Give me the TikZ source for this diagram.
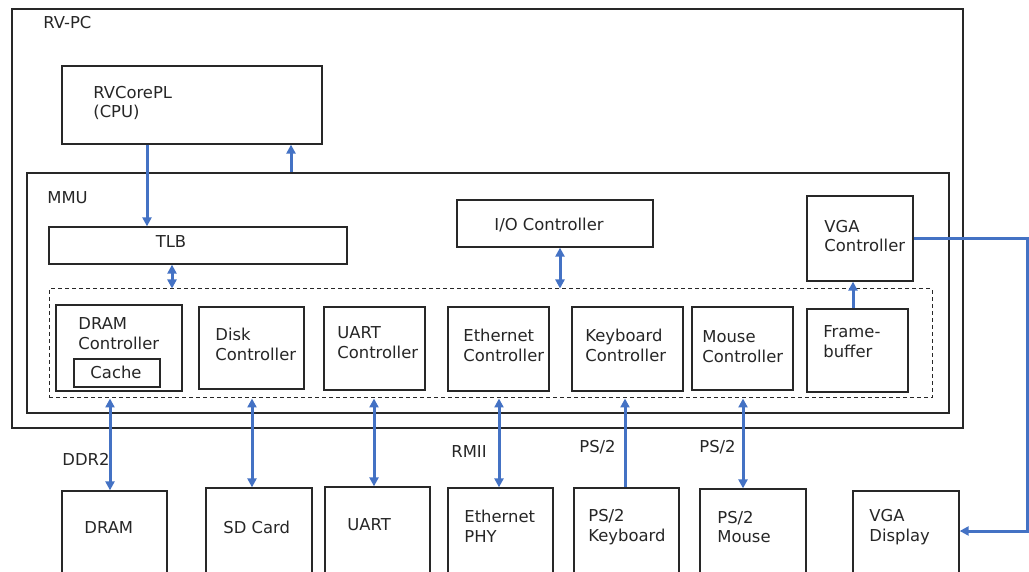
\documentclass[tikz,border=0pt]{standalone}
\usepackage{fontspec}
\setmainfont{DejaVu Sans}
\usetikzlibrary{arrows.meta,fit,calc}
\definecolor{lnk}{RGB}{68,114,196}
\definecolor{edge}{RGB}{40,40,40}
\begin{document}
\begin{tikzpicture}[x=0.5pt,y=-0.5pt,
  box/.style={draw=edge,line width=0.65pt,inner sep=0pt},
  txt/.style={font=\fontsize{8.2}{9.9}\selectfont,inner sep=0pt,align=left,text=black!85},
  link/.style={draw=lnk,line width=1.5pt},
  tip/.style={-{Triangle[length=4.5pt,width=4.5pt]}},
  bitip/.style={{Triangle[length=4.5pt,width=4.5pt]}-{Triangle[length=4.5pt,width=4.5pt]}},
  uptip/.style={{Triangle[length=4.5pt,width=4.5pt]}-}
]
\useasboundingbox (0,0) rectangle (1029,572);
% frames
\node[box,line width=0.75pt,fit={(12,9)(963,428)}] (rvpc) {};
\node[box,line width=0.75pt,fit={(27,173)(949,413)}] (mmu) {};
\node[box,fit={(62,66)(322,144)}] (cpu) {};
\node[box,fit={(49,227)(347,264)}] (tlb) {};
\node[box,fit={(457,200)(653,247)}] (io) {};
\node[box,fit={(807,196)(913,281)}] (vgac) {};
\node[box,line width=0.5pt,dash pattern=on 2pt off 1.5pt,fit={(49,289)(932,398)}] (dash) {};
% controllers
\node[box,fit={(56,305)(182,391)}] (dramc) {};
\node[box,fit={(74,359)(160,387)}] (cache) {};
\node[box,fit={(199,307)(304,389)}] (diskc) {};
\node[box,fit={(324,307)(425,390)}] (uartc) {};
\node[box,fit={(448,307)(549,391)}] (ethc) {};
\node[box,fit={(572,307)(683,391)}] (kbdc) {};
\node[box,fit={(692,307)(793,390)}] (mousec) {};
\node[box,line width=1pt,fit={(807,309)(908,392)}] (fb) {};
% devices
\node[box,fit={(62,491)(167,590)}] (dram) {};
\node[box,fit={(206,488)(312,590)}] (sd) {};
\node[box,fit={(325,487)(430,590)}] (uart) {};
\node[box,fit={(448,488)(553,590)}] (phy) {};
\node[box,fit={(574,488)(679,590)}] (kbd) {};
\node[box,fit={(700,489)(806,590)}] (mouse) {};
\node[box,fit={(853,491)(959,590)}] (vgad) {};
% texts
\node[txt,anchor=west] (t_rvpc) at (43,23) {RV-PC};
\node[txt,anchor=west] (t_cpu) at (93,103) {RVCorePL\\(CPU)};
\node[txt,anchor=west] (t_mmu) at (47,198) {MMU};
\node[txt] (t_tlb) at (171,242) {TLB};
\node[txt] (t_io) at (549,225) {I/O Controller};
\node[txt,anchor=west] (t_vgac) at (824,236) {VGA\\Controller};
\node[txt,anchor=west] (t_dramc) at (78,334) {DRAM\\Controller};
\node[txt] (t_cache) at (116,372) {Cache};
\node[txt,anchor=west] (t_diskc) at (215,344) {Disk\\Controller};
\node[txt,anchor=west] (t_uartc) at (337,343) {UART\\Controller};
\node[txt,anchor=west] (t_ethc) at (463,345) {Ethernet\\Controller};
\node[txt,anchor=west] (t_kbdc) at (585,345) {Keyboard\\Controller};
\node[txt,anchor=west] (t_mousec) at (702,347) {Mouse\\Controller};
\node[txt,anchor=west] (t_fb) at (823,342) {Frame-\\buffer};
\node[txt,anchor=west] (t_dram) at (84,528) {DRAM};
\node[txt,anchor=west] (t_sd) at (223,527) {SD Card};
\node[txt,anchor=west] (t_uart) at (347,525) {UART};
\node[txt,anchor=west] (t_phy) at (464,526) {Ethernet\\PHY};
\node[txt,anchor=west] (t_kbd) at (588,527) {PS/2\\Keyboard};
\node[txt,anchor=west] (t_mouse) at (717,527) {PS/2\\Mouse};
\node[txt,anchor=west] (t_vgad) at (869,527) {VGA\\Display};
\node[txt,anchor=west] (l_ddr) at (62,459) {DDR2};
\node[txt,anchor=west] (l_rmii) at (451,452) {RMII};
\node[txt,anchor=west] (l_ps2a) at (579,447) {PS/2};
\node[txt,anchor=west] (l_ps2b) at (699,447) {PS/2};
% connector x positions
\coordinate (xa) at (147,0);
\coordinate (xb) at (291,0);
\coordinate (xc) at (172,0);
\coordinate (xd) at (560,0);
\coordinate (xe) at (853,0);
\coordinate (x1) at (110,0);
\coordinate (x2) at (252,0);
\coordinate (x3) at (374,0);
\coordinate (x4) at (499,0);
\coordinate (x5) at (625,0);
\coordinate (x6) at (743,0);
\coordinate (vr) at (1027,531);
% connectors
\draw[link,tip] (xa |- cpu.south) -- (xa |- tlb.north);
\draw[link,tip] (xb |- mmu.north) -- (xb |- cpu.south);
\draw[link,bitip] (xc |- tlb.south) -- (xc |- dash.north);
\draw[link,bitip] (xd |- io.south) -- (xd |- dash.north);
\draw[link,tip] (xe |- fb.north) -- (xe |- vgac.south);
\draw[link,bitip] (x1 |- dash.south) -- (x1 |- dram.north);
\draw[link,bitip] (x2 |- dash.south) -- (x2 |- sd.north);
\draw[link,bitip] (x3 |- dash.south) -- (x3 |- uart.north);
\draw[link,bitip] (x4 |- dash.south) -- (x4 |- phy.north);
\draw[link,uptip] (x5 |- dash.south) -- (x5 |- kbd.north);
\draw[link,bitip] (x6 |- dash.south) -- (x6 |- mouse.north);
\draw[link,tip] (vgac.east) -| (vr) -- (vr -| vgad.east);
\end{tikzpicture}
\end{document}
